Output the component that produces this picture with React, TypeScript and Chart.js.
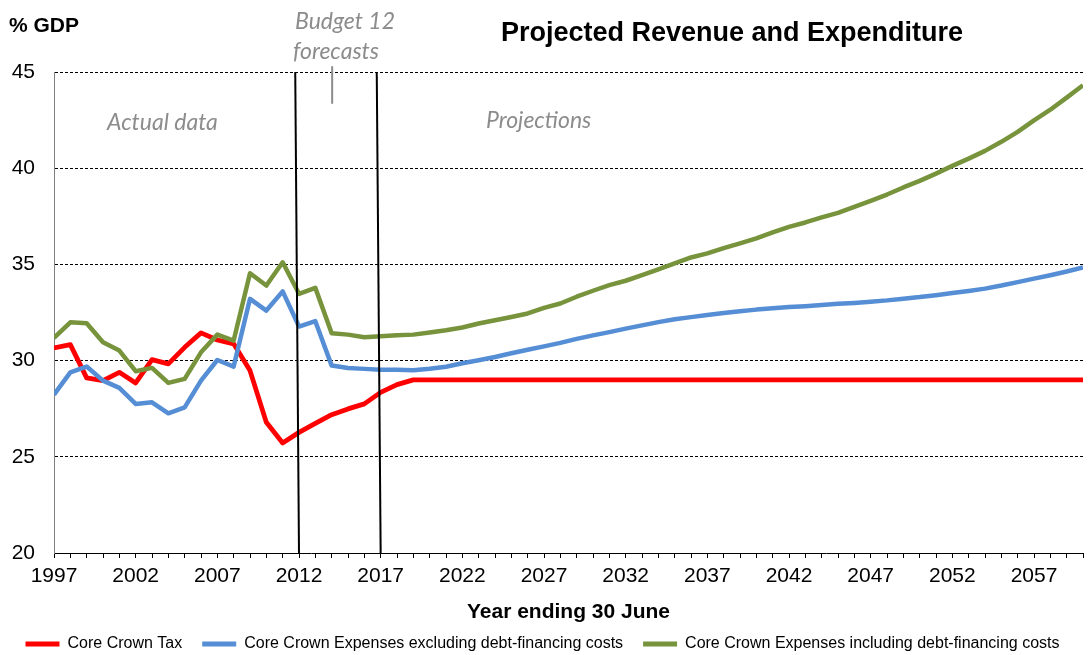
import React, { useEffect, useRef } from 'react';
import { Chart, registerables } from 'chart.js';
Chart.register(...registerables);

// ---- Data ----
const years = [
  1997, 1998, 1999, 2000, 2001, 2002, 2003, 2004, 2005, 2006, 2007, 2008, 2009, 2010, 2011, 2012,
  2013, 2014, 2015, 2016, 2017, 2018, 2019, 2020, 2021, 2022, 2023, 2024, 2025, 2026, 2027, 2028,
  2029, 2030, 2031, 2032, 2033, 2034, 2035, 2036, 2037, 2038, 2039, 2040, 2041, 2042, 2043, 2044,
  2045, 2046, 2047, 2048, 2049, 2050, 2051, 2052, 2053, 2054, 2055, 2056, 2057, 2058, 2059, 2060,
];

const coreCrownTax = [
  30.66, 30.83, 29.10, 28.96, 29.39, 28.84, 30.05, 29.83, 30.69, 31.44, 31.07, 30.87, 29.48, 26.79, 25.72, 26.27,
  26.74, 27.19, 27.49, 27.75, 28.35, 28.75, 29.0, 29.0, 29.0, 29.0, 29.0, 29.0, 29.0, 29.0, 29.0, 29.0,
  29.0, 29.0, 29.0, 29.0, 29.0, 29.0, 29.0, 29.0, 29.0, 29.0, 29.0, 29.0, 29.0, 29.0, 29.0, 29.0,
  29.0, 29.0, 29.0, 29.0, 29.0, 29.0, 29.0, 29.0, 29.0, 29.0, 29.0, 29.0, 29.0, 29.0, 29.0, 29.0,
];

const expensesExclDebt = [
  28.23, 29.39, 29.69, 28.96, 28.58, 27.75, 27.83, 27.26, 27.57, 28.96, 30.03, 29.69, 33.21, 32.60, 33.60, 31.77,
  32.05, 29.74, 29.62, 29.57, 29.52, 29.53, 29.50, 29.58, 29.68, 29.86, 30.02, 30.19, 30.38, 30.56, 30.74, 30.92,
  31.13, 31.31, 31.48, 31.66, 31.83, 32.00, 32.15, 32.26, 32.37, 32.47, 32.56, 32.65, 32.72, 32.78, 32.83, 32.89,
  32.95, 33.00, 33.06, 33.13, 33.22, 33.30, 33.40, 33.51, 33.62, 33.74, 33.90, 34.08, 34.26, 34.44, 34.63, 34.84,
];

const expensesInclDebt = [
  31.18, 31.99, 31.94, 30.95, 30.52, 29.45, 29.62, 28.84, 29.05, 30.43, 31.35, 31.04, 34.54, 33.90, 35.11, 33.47,
  33.78, 31.42, 31.35, 31.21, 31.27, 31.32, 31.35, 31.46, 31.58, 31.72, 31.93, 32.10, 32.27, 32.45, 32.74, 32.97,
  33.32, 33.63, 33.92, 34.15, 34.44, 34.74, 35.05, 35.36, 35.57, 35.85, 36.09, 36.35, 36.66, 36.95, 37.18, 37.44,
  37.68, 37.99, 38.30, 38.63, 39.00, 39.34, 39.72, 40.12, 40.50, 40.90, 41.37, 41.89, 42.49, 43.04, 43.67, 44.31,
];

const seriesLabels = [
  'Core Crown Tax',
  'Core Crown Expenses excluding debt-financing costs',
  'Core Crown Expenses including debt-financing costs',
];
const seriesColors = ['#FF0000', '#558ED5', '#77933C'];

const yMin = 20;
const yMax = 45;
const yStep = 5;
const xLabelEvery = 5;

// Forecast boundary lines (drawn slightly slanted, as in the original)
const boundaryTopYears = [2011.77, 2016.76];
const boundaryBottomYears = [2012, 2017];
const markerYear = [2014.03, 2014.03];
const markerValues = [45.26, 43.39];

const FONT = '"Liberation Sans", Arial, sans-serif';
const ITALIC_FONT = 'Lato, "Liberation Sans", sans-serif';

export default function App() {
  const canvasRef = useRef<HTMLCanvasElement | null>(null);

  useEffect(() => {
    document.body.style.margin = '0';
    const canvas = canvasRef.current;
    if (!canvas) return;

    const toPoints = (vals: number[]) => years.map((yr, i) => ({ x: yr, y: vals[i] }));

    const textPlugin = {
      id: 'texts',
      afterDraw(chart: any) {
        const ctx = chart.ctx;
        ctx.save();
        ctx.fillStyle = '#000';
        ctx.textAlign = 'left';
        ctx.textBaseline = 'alphabetic';
        ctx.font = `bold 21px ${FONT}`;
        ctx.fillText('% GDP', 9, 32);
        ctx.textAlign = 'center';
        ctx.font = `bold 27px ${FONT}`;
        ctx.fillText('Projected Revenue and Expenditure', 732, 41);

        ctx.fillStyle = '#8C8C8C';
        ctx.textAlign = 'left';
        ctx.font = `italic 23px ${ITALIC_FONT}`;
        ctx.fillText('Budget 12', 295, 29);
        ctx.fillText('forecasts', 293, 59);
        ctx.fillText('Actual data', 107, 130);
        ctx.fillText('Projections', 486, 128);
        ctx.restore();
      },
    };

    const datasets: any[] = [
      {
        label: seriesLabels[0],
        data: toPoints(coreCrownTax),
        borderColor: seriesColors[0],
        backgroundColor: seriesColors[0],
        borderWidth: 4.8,
        order: 5,
      },
      {
        label: seriesLabels[1],
        data: toPoints(expensesExclDebt),
        borderColor: seriesColors[1],
        backgroundColor: seriesColors[1],
        borderWidth: 4.5,
        order: 4,
      },
      {
        label: seriesLabels[2],
        data: toPoints(expensesInclDebt),
        borderColor: seriesColors[2],
        backgroundColor: seriesColors[2],
        borderWidth: 4.5,
        order: 3,
      },
    ];
    boundaryTopYears.forEach((top, i) => {
      datasets.push({
        label: 'boundary' + i,
        data: [
          { x: top, y: yMax },
          { x: boundaryBottomYears[i], y: yMin },
        ],
        borderColor: '#000',
        borderWidth: 2,
        order: 0,
      });
    });
    datasets.push({
      label: 'marker',
      data: markerYear.map((x, i) => ({ x, y: markerValues[i] })),
      borderColor: '#8C8C8C',
      borderWidth: 2,
      clip: false,
      order: 1,
    });

    const chart = new Chart(canvas, {
      type: 'line',
      data: { datasets },
      options: {
        responsive: false,
        animation: false,
        devicePixelRatio: 1,
        layout: { padding: { top: 72, right: 4, left: 0, bottom: -7 } },
        elements: {
          point: { radius: 0, hoverRadius: 0 },
          line: { tension: 0, borderJoinStyle: 'round', borderCapStyle: 'butt', fill: false },
        },
        scales: {
          x: {
            type: 'linear',
            min: years[0],
            max: years[years.length - 1],
            afterFit: (s: any) => {
              s.height = 63;
            },
            border: { display: true, color: '#000', width: 1 },
            grid: {
              display: true,
              drawOnChartArea: false,
              drawTicks: true,
              tickLength: 5,
              color: '#000',
            },
            ticks: {
              stepSize: 1,
              autoSkip: false,
              maxTicksLimit: 200,
              maxRotation: 0,
              minRotation: 0,
              padding: 6,
              color: '#000',
              font: { family: FONT, size: 21 },
              callback: (v: any) => ((Number(v) - years[0]) % xLabelEvery === 0 ? String(v) : ''),
            },
            title: {
              display: true,
              text: 'Year ending 30 June',
              color: '#000',
              font: { family: FONT, size: 21, weight: 'bold' },
              padding: { top: 0, bottom: -9 },
            },
          },
          y: {
            type: 'linear',
            min: yMin,
            max: yMax,
            afterFit: (s: any) => {
              s.width = 54;
            },
            border: { display: true, color: '#808080', width: 1, dash: [3, 2] },
            grid: {
              display: true,
              drawTicks: false,
              color: (c: any) => (c.tick && c.tick.value === yMin ? 'rgba(0,0,0,0)' : '#000'),
              lineWidth: 1,
            },
            ticks: {
              stepSize: yStep,
              padding: 19,
              color: '#000',
              font: { family: FONT, size: 21 },
            },
          },
        },
        plugins: {
          tooltip: { enabled: false },
          title: { display: false },
          legend: {
            display: true,
            position: 'bottom',
            labels: {
              boxWidth: 34,
              boxHeight: 5,
              padding: 20,
              color: '#000',
              font: { family: FONT, size: 16 },
              generateLabels: (c: any) =>
                (Chart.defaults.plugins.legend.labels as any)
                  .generateLabels(c)
                  .filter((l: any) => l.datasetIndex < 3)
                  .sort((a: any, b: any) => a.datasetIndex - b.datasetIndex)
                  .map((l: any) => ({
                    ...l,
                    lineWidth: 0,
                    fillStyle: seriesColors[l.datasetIndex],
                    strokeStyle: seriesColors[l.datasetIndex],
                  })),
            },
          },
        },
      } as any,
      plugins: [textPlugin],
    });

    return () => {
      chart.destroy();
    };
  }, []);

  return (
    <div style={{ width: 1089, height: 655 }}>
      <canvas ref={canvasRef} width={1089} height={655} style={{ width: 1089, height: 655 }} />
    </div>
  );
}
